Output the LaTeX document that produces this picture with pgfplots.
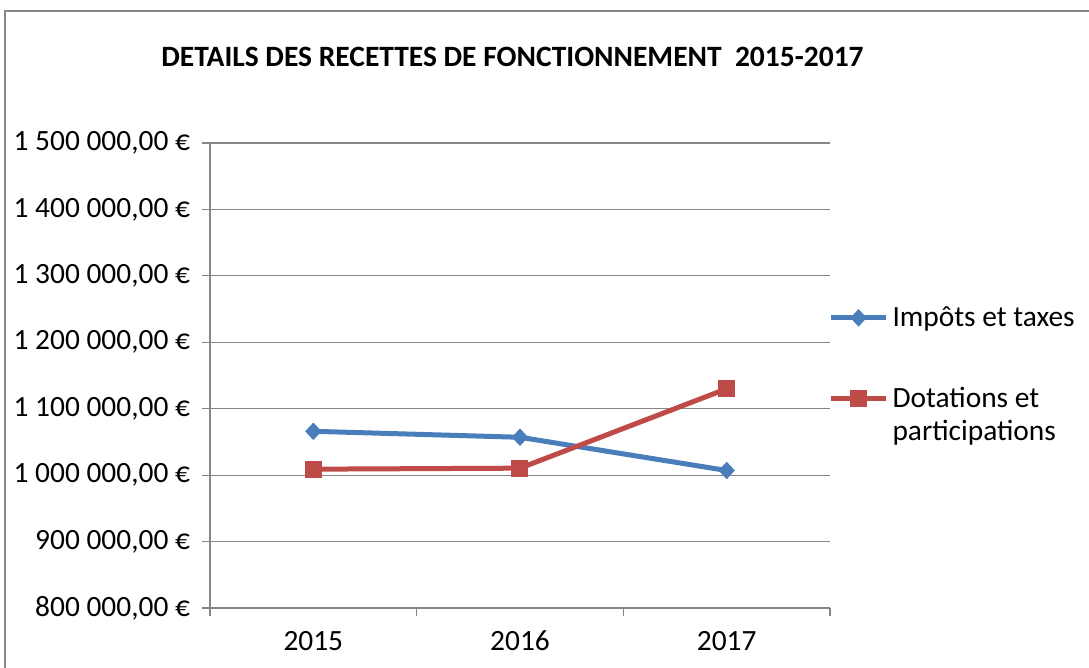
\documentclass[border=0pt]{standalone}
\usepackage{pgfplots}
\pgfplotsset{compat=1.18}
\usepackage{fontspec}
\setmainfont{Carlito}
\definecolor{serieA}{HTML}{4A7EBB}
\definecolor{serieB}{HTML}{BE4B48}
\definecolor{grille}{HTML}{868686}
\begin{document}
\begin{tikzpicture}
\useasboundingbox (0pt,0pt) rectangle (544.5pt,-334pt);
\draw[grille, line width=0.6pt] (2.5pt,-340pt) -- (2.5pt,-5.5pt) -- (560pt,-5.5pt);
\node[font=\fontsize{14.75}{17}\selectfont\bfseries] at (256.25pt,-28.5pt) {DETAILS DES RECETTES DE FONCTIONNEMENT\ \ 2015-2017};
\begin{axis}[
  at={(105pt,-304pt)}, anchor=south west,
  scale only axis, width=310pt, height=232.5pt,
  xmin=0.5, xmax=3.5, ymin=800000, ymax=1500000,
  axis lines*=left,
  axis line style={grille, line width=0.6pt},
  ymajorgrids, grid style={grille, line width=0.6pt},
  ytick={800000,900000,1000000,1100000,1200000,1300000,1400000,1500000},
  yticklabels={{800 000,00 €},{900 000,00 €},{1 000 000,00 €},{1 100 000,00 €},{1 200 000,00 €},{1 300 000,00 €},{1 400 000,00 €},{1 500 000,00 €}},
  scaled y ticks=false,
  xtick={0.5,1.5,2.5,3.5}, xticklabel={\phantom{0}},
  extra x ticks={1,2,3}, extra x tick labels={2015,2016,2017},
  extra x tick style={major tick length=0pt},
  tick align=outside, major tick length=4pt,
  tick style={grille, line width=0.6pt},
  tick label style={font=\fontsize{14.7}{16.5}\selectfont},
  yticklabel style={xshift=-2.5pt},
  xticklabel style={yshift=-8pt},
  legend style={at={(0.997,0.658)}, anchor=north west, draw=none, fill=none,
    font=\fontsize{14.7}{16.5}\selectfont, cells={align=left}, row sep=25pt, inner sep=0pt},
  legend cell align=left,
  legend image code/.code={\draw[mark repeat=2,mark phase=2] plot coordinates {(0pt,0pt) (13.75pt,0pt) (27.5pt,0pt)};},
]
\addplot[serieA, line width=2.5pt, mark=diamond*, mark size=4pt, mark options={xscale=1.25, line width=0.5pt}] coordinates {(1,1066000) (2,1057000) (3,1007000)};
\addlegendentry{Impôts et taxes}
\addplot[serieB, line width=2.5pt, mark=square*, mark size=4pt, mark options={line width=0.5pt},
  legend image code/.code={\draw[mark repeat=2,mark phase=2] plot coordinates {(0pt,8.25pt) (13.75pt,8.25pt) (27.5pt,8.25pt)};}] coordinates {(1,1009000) (2,1010500) (3,1130000)};
\addlegendentry{Dotations et\\participations}
\end{axis}
\end{tikzpicture}
\end{document}
